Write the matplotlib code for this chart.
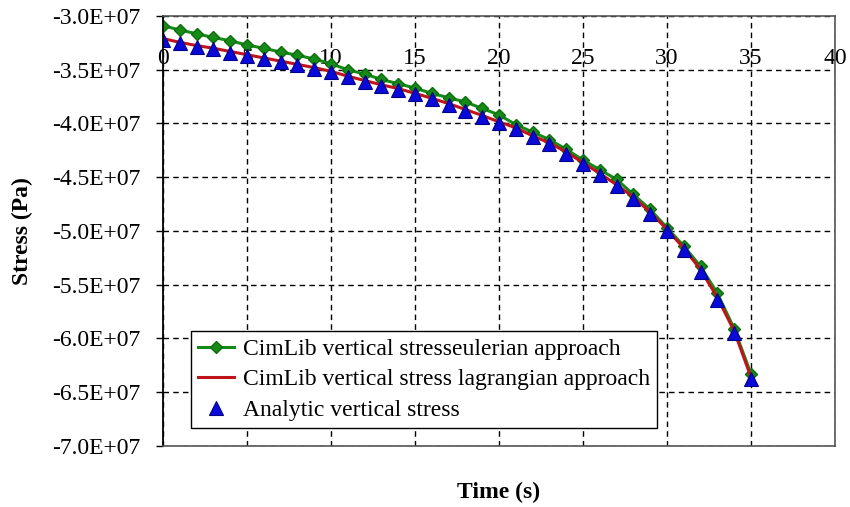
import numpy as np
import matplotlib
matplotlib.use("Agg")
import matplotlib.pyplot as plt
from matplotlib.ticker import FuncFormatter, MultipleLocator

time_s = list(range(0, 36))

# values in units of 1E+07 Pa
eulerian = [-3.09, -3.13, -3.165, -3.20, -3.23, -3.27, -3.30, -3.335, -3.365, -3.40,
            -3.445, -3.50, -3.54, -3.59, -3.63, -3.67, -3.72, -3.76, -3.80, -3.86,
            -3.92, -4.01, -4.08, -4.15, -4.24, -4.34, -4.43, -4.52, -4.66, -4.80,
            -4.97, -5.14, -5.33, -5.58, -5.91, -6.33]
lagrangian = [-3.21, -3.245, -3.275, -3.30, -3.33, -3.36, -3.39, -3.42, -3.45, -3.48,
              -3.515, -3.56, -3.60, -3.64, -3.675, -3.72, -3.765, -3.815, -3.87, -3.925,
              -3.985, -4.04, -4.115, -4.18, -4.265, -4.365, -4.465, -4.57, -4.685, -4.825,
              -4.985, -5.16, -5.36, -5.62, -5.93, -6.36]
analytic = [-3.22, -3.255, -3.285, -3.31, -3.34, -3.37, -3.40, -3.43, -3.46, -3.49,
            -3.525, -3.57, -3.61, -3.65, -3.685, -3.73, -3.775, -3.825, -3.88, -3.935,
            -3.995, -4.05, -4.13, -4.195, -4.28, -4.38, -4.48, -4.585, -4.70, -4.84,
            -5.00, -5.175, -5.38, -5.64, -5.95, -6.38]

series_labels = ["CimLib vertical stresseulerian approach",
                 "CimLib vertical stress lagrangian approach",
                 "Analytic vertical stress"]
x_label = "Time (s)"
y_label = "Stress (Pa)"

plt.rcParams['font.family'] = ['Liberation Serif', 'DejaVu Serif']
FS = 17

fig = plt.figure(figsize=(8.5, 5.07), dpi=100)
ax = fig.add_axes([163/850, 1-446/507, 672/850, 430/507])

scale = 1e7
ax.plot(time_s, np.array(eulerian)*scale, color='#168a16', lw=2.2, marker='D',
        ms=6, mfc='#168a16', mec='#0d6e0d', label=series_labels[0], zorder=3)
ax.plot(time_s, np.array(lagrangian)*scale, color='#c0141c', lw=2.2,
        label=series_labels[1], zorder=4)
ax.plot(time_s, np.array(analytic)*scale, ls='none', marker='^', ms=9.5,
        mfc='#0a0ad8', mec='#00008a', mew=0.8, label=series_labels[2], zorder=5)

ax.set_xlim(0, 40)
ax.set_ylim(-7e7, -3e7)
ax.xaxis.set_major_locator(MultipleLocator(5))
ax.yaxis.set_major_locator(MultipleLocator(0.5e7))
ax.yaxis.set_major_formatter(FuncFormatter(lambda v, p: f"{v:.1E}"))

ax.grid(True, color='black', ls=(0, (4, 3)), lw=1.0)
ax.set_axisbelow(True)

ax.tick_params(axis='x', top=True, bottom=False, labeltop=True, labelbottom=False,
               direction='in', length=0, pad=-38, labelsize=FS)
ax.tick_params(axis='y', direction='out', length=5, width=1, pad=11, labelsize=FS)

for s in ['top', 'bottom', 'right']:
    ax.spines[s].set_color('#555555')
    ax.spines[s].set_linewidth(1.2)
    ax.spines[s].set_zorder(6)
ax.spines['left'].set_color('black')
ax.spines['left'].set_linewidth(1.3)
ax.spines['left'].set_zorder(6)

fig.text(499/850, 1-492/507, x_label, ha='center', va='center',
         fontsize=FS, fontweight='bold')
fig.text(22/850, 1-231/507, y_label, ha='center', va='center', rotation=90,
         fontsize=FS, fontweight='bold')

leg = ax.legend(loc='lower left', bbox_to_anchor=(0.0417, 0.042), borderaxespad=0,
                fontsize=FS, frameon=True, fancybox=False, framealpha=1,
                edgecolor='black', handlelength=1.5, handletextpad=0.4,
                labelspacing=0.38, borderpad=0.3)
leg.get_frame().set_linewidth(1.0)
leg.set_zorder(7)

fig.savefig('out.png', dpi=100, facecolor='white')
